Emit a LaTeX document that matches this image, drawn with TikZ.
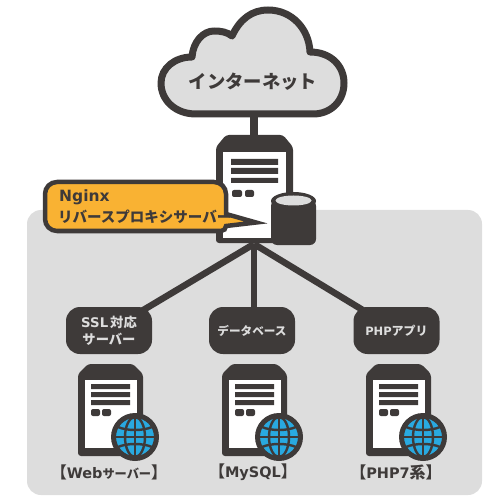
\documentclass[tikz,border=0pt]{standalone}
\usepackage{fontspec}
\setmainfont{Noto Sans CJK JP}
\newfontfamily\lat{DejaVu Sans}
\usetikzlibrary{backgrounds}
\definecolor{ink}{HTML}{3E3A39}
\definecolor{panel}{HTML}{DDDDDD}
\definecolor{amber}{HTML}{F9B233}
\definecolor{globeblue}{HTML}{29A9E0}
\newcommand{\capjp}[1]{{\fontsize{12.2}{18}\selectfont #1}}
\tikzset{
  x=1pt,y=-1pt,
  link/.style={draw=ink,line width=6.5pt},
  tagbox/.style={fill=ink,text=panel,rounded corners=14pt,minimum width=86pt,minimum height=47pt,inner sep=0pt,align=center,font=\bfseries\fontsize{12}{17}\selectfont},
  caption/.style={text=ink,inner sep=0pt,font=\bfseries\fontsize{16}{18}\selectfont},
  grid/.style={draw=ink,line width=2.4pt}
}
\newcommand{\srvbox}[1]{%
\begin{scope}[xshift=#1]
  \fill[ink,rounded corners=3pt] (88,364) -- (133,364) -- (143,374) -- (143,456) -- (78,456) -- (78,374) -- cycle;
  \fill[white] (85,380) rectangle (137,448);
  \fill[ink] (91,384) rectangle (130,389) (91,392) rectangle (130,397) (91,400) rectangle (130,405);
  \fill[ink,rounded corners=2pt] (91,409) rectangle (100,416) (102,409) rectangle (111,416);
  \begin{scope}[shift={(135,437)}]
    \fill[ink] (0,0) circle [radius=24];
    \fill[globeblue] (0,0) circle [radius=20];
    \draw[grid] (0,-20) -- (0,20) (-20,0) -- (20,0);
    \draw[grid] (0,0) ellipse [x radius=10,y radius=20];
    \draw[grid] (-17,-10) .. controls (-8,-6) and (8,-6) .. (17,-10);
    \draw[grid] (-17,10) .. controls (-8,6) and (8,6) .. (17,10);
    \draw[ink,line width=2pt] (0,0) circle [radius=20];
  \end{scope}
\end{scope}}
\begin{document}
\begin{tikzpicture}
\useasboundingbox (0,0) rectangle (500,502);
% cloud
\draw[fill=panel,draw=ink,line width=7pt,line join=round]
  (196,114) .. controls (175,114) and (161,100) .. (161,83)
  .. controls (161,68) and (175,57) .. (192,57)
  .. controls (193,42) and (203,31) .. (214,31)
  .. controls (221,31) and (227,32) .. (232,36)
  .. controls (240,19) and (252,10) .. (268,10)
  .. controls (292,10) and (309,29) .. (310,52)
  .. controls (331,52) and (344,66) .. (344,83)
  .. controls (344,101) and (331,114) .. (313,114) -- cycle;
\node[text=ink,inner sep=0pt,font=\bfseries\fontsize{18.3}{20}\selectfont] (net) at (253,82) {インターネット};
\coordinate (netfoot) at (254,116);
\coordinate (hub) at (254,244);
% top server
\fill[ink,rounded corners=3pt] (226,135) -- (283,135) -- (293,147) -- (293,243) -- (216,243) -- (216,147) -- cycle;
\fill[white] (223,152) rectangle (286,238);
\fill[ink] (231,159) rectangle (278,165) (231,168) rectangle (278,174) (231,178) rectangle (278,183);
\fill[ink,rounded corners=2pt] (232,190) rectangle (242,197) (245,190) rectangle (254,197);
\coordinate (gate) at (254,136);
% cylinder
\fill[ink,rounded corners=6pt] (271,200) -- (271,245) -- (316,245) -- (316,200) -- cycle;
\fill[ink] (293.5,201) ellipse [x radius=22.5,y radius=9];
\fill[panel] (293.5,200.5) ellipse [x radius=18,y radius=5];
% callout
\draw[fill=amber,draw=ink,line width=4.5pt,line join=miter]
  (57,182) -- (214,182) arc[start angle=-90,end angle=0,radius=12] -- (226,214)
  -- (256,222.5) -- (226,226)
  arc[start angle=0,end angle=90,radius=5] -- (57,231) arc[start angle=90,end angle=180,radius=12] -- (45,194)
  arc[start angle=180,end angle=270,radius=12] -- cycle;
\node[anchor=west,text=ink,inner sep=0pt,font=\bfseries\lat\fontsize{15.5}{17}\selectfont] (nginx) at (59,197) {Nginx};
\node[anchor=west,text=ink,inner sep=0pt,font=\bfseries\fontsize{14.5}{16}\selectfont] (proxy) at (58,217) {リバースプロキシサーバー};
% tags
\node[tagbox,font=\bfseries\fontsize{13.3}{17}\selectfont] (b1) at (109,330.5) {{\lat SSL}\hspace{2pt}対応\\サーバー};
\node[tagbox,font=\bfseries\fontsize{11.6}{17}\selectfont] (b2) at (252,330.5) {データベース};
\node[tagbox] (b3) at (396.5,330.5) {{\lat\fontsize{11.5}{17}\selectfont PHP}アプリ};
% servers
\srvbox{0pt}
\srvbox{144pt}
\srvbox{288pt}
% captions
\node[caption] (c1) at (109,472) {【{\lat\fontsize{14.5}{18}\selectfont Web}\capjp{サーバー}】};
\node[caption] (c2) at (253,472) {【{\lat\fontsize{14.5}{18}\selectfont MySQL}】};
\node[caption] (c3) at (396,472) {【{\lat\fontsize{14.5}{18}\selectfont PHP7}系】};
\begin{pgfonlayer}{background}
  \fill[panel,rounded corners=14pt] (27,210) rectangle (482,495);
  \draw[link] (hub) -- (b1.center);
  \draw[link] (hub) -- (hub |- b2.center);
  \draw[link] (hub) -- (b3.center);
  \draw[draw=ink,line width=8pt] (netfoot) -- (gate);
\end{pgfonlayer}
\end{tikzpicture}
\end{document}
